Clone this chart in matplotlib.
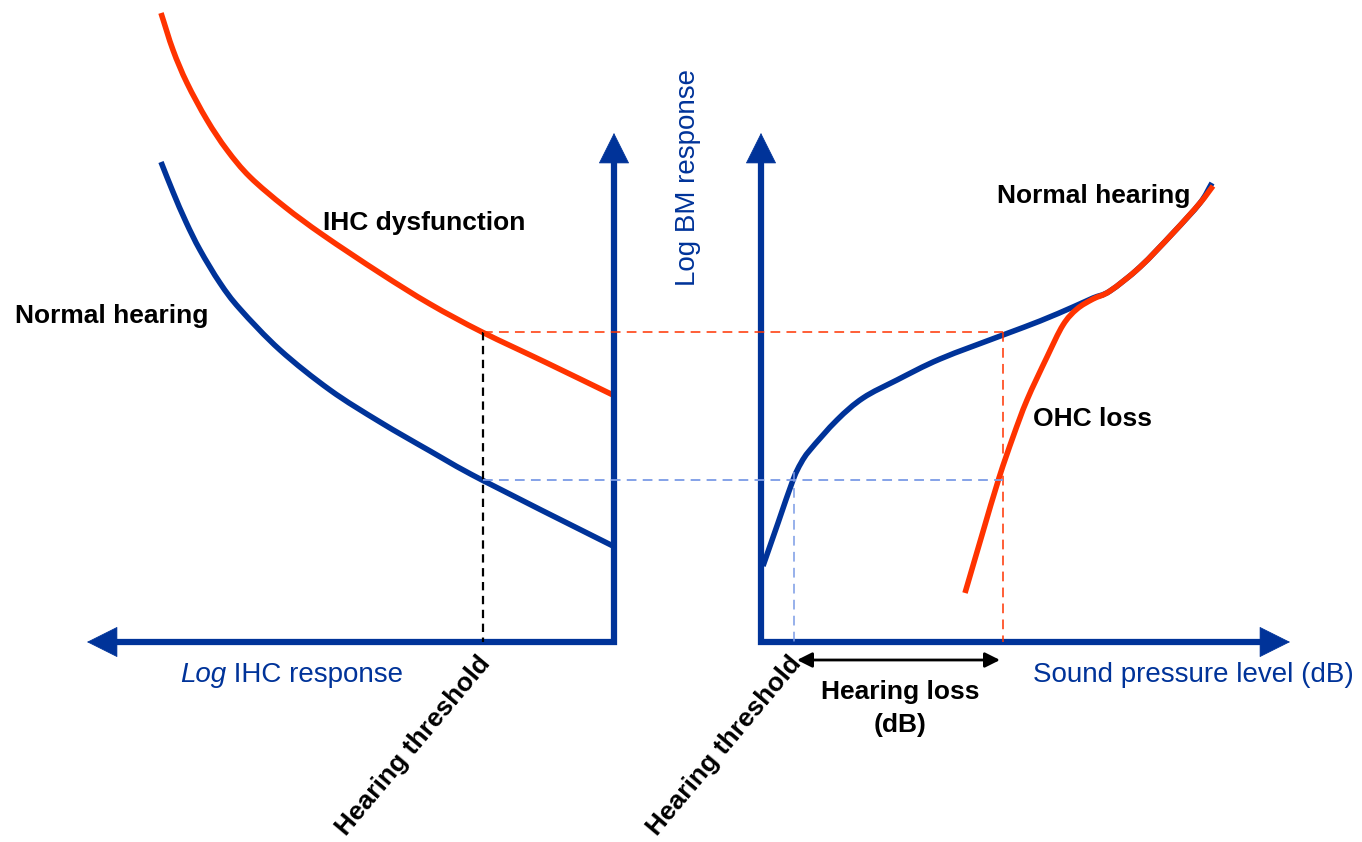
import numpy as np
import matplotlib.pyplot as plt
from matplotlib.path import Path
from matplotlib.patches import PathPatch

plt.rcParams['font.family'] = ['Liberation Sans', 'DejaVu Sans']
plt.rcParams['lines.scale_dashes'] = False

BLUE = '#003399'
RED = '#ff3300'
PALE = '#7b9be6'

# IHC panel (left): response falls off as level goes up
ihc_normal_x = [161, 173, 186, 200, 220, 240, 280, 330, 380, 430, 482, 613]
ihc_normal_y = [162, 192, 222, 250, 283, 309, 350, 390, 422, 451, 480, 546]
ihc_dysf_x = [161, 173, 187, 207, 227, 250, 285, 323, 380, 430, 482, 547, 613]
ihc_dysf_y = [13, 50, 83, 120, 150, 177, 207, 235, 273, 304, 332, 363, 395]

# BM panel (right): input/output functions
bm_normal_x = [763, 778, 793, 801, 810, 837, 863, 897, 940, 1003, 1040, 1073, 1093, 1110, 1140, 1173, 1200, 1212]
bm_normal_y = [566, 523, 480, 463, 450, 420, 398, 380, 359, 335, 321, 307, 298, 291, 267, 233, 203, 183]
bm_ohc_x = [965, 982, 999, 1013, 1027, 1047, 1063, 1077, 1093, 1110, 1140, 1173, 1200, 1213]
bm_ohc_y = [593, 535, 478, 437, 400, 357, 325, 309, 299, 291, 267, 233, 203, 186]

# thresholds and the response levels they map to
ihc_threshold = 483
spl_threshold_normal = 794
spl_threshold_ohc = 1003
level_dysf = 332
level_normal = 480

# axis frame
axis_y = 642
left_axis_x = 614
right_axis_x = 761
axis_top = 133
left_end = 87
right_end = 1290

fig = plt.figure(figsize=(13.62, 8.42), dpi=100)
ax = fig.add_axes([0, 0, 1, 1])
ax.set_xlim(0, 1362)
ax.set_ylim(842, 0)
ax.axis('off')


def arrow_head(tail, tip):
    ax.annotate('', xy=tip, xytext=tail,
                arrowprops=dict(arrowstyle='-|>,head_length=1.0,head_width=0.5',
                                mutation_scale=21, color=BLUE, lw=0.5,
                                shrinkA=0, shrinkB=0))


def smooth_curve(xs, ys, color):
    # Catmull-Rom through the points, drawn as cubic Bezier segments
    p = np.column_stack([xs, ys]).astype(float)
    pts = np.vstack([2 * p[0] - p[1], p, 2 * p[-1] - p[-2]])
    verts = [p[0]]
    codes = [Path.MOVETO]
    for i in range(1, len(pts) - 2):
        p0, p1, p2, p3 = pts[i - 1], pts[i], pts[i + 1], pts[i + 2]
        verts += [p1 + (p2 - p0) / 6, p2 - (p3 - p1) / 6, p2]
        codes += [Path.CURVE4] * 3
    ax.add_patch(PathPatch(Path(verts, codes), fill=False, edgecolor=color,
                           lw=4, capstyle='butt', joinstyle='round'))


# axes as L shapes with arrow heads
ax.plot([left_end + 28, left_axis_x, left_axis_x], [axis_y, axis_y, axis_top + 28],
        color=BLUE, lw=4.5, solid_joinstyle='miter', solid_capstyle='butt')
ax.plot([right_axis_x, right_axis_x, right_end - 28], [axis_top + 28, axis_y, axis_y],
        color=BLUE, lw=4.5, solid_joinstyle='miter', solid_capstyle='butt')
arrow_head((left_end + 32, axis_y), (left_end, axis_y))
arrow_head((left_axis_x, axis_top + 32), (left_axis_x, axis_top))
arrow_head((right_axis_x, axis_top + 32), (right_axis_x, axis_top))
arrow_head((right_end - 32, axis_y), (right_end, axis_y))

# guide lines
ax.plot([ihc_threshold, ihc_threshold], [level_dysf, axis_y], color='black',
        lw=1.6, dashes=(6, 4))
ax.plot([ihc_threshold, spl_threshold_ohc], [level_dysf, level_dysf], color=RED,
        lw=1.1, dashes=(7, 4.5))
ax.plot([spl_threshold_ohc, spl_threshold_ohc], [level_dysf, axis_y], color=RED,
        lw=1.1, dashes=(7, 4.5))
ax.plot([ihc_threshold, spl_threshold_ohc], [level_normal, level_normal], color=PALE,
        lw=1.3, dashes=(7, 4.5))
ax.plot([spl_threshold_normal, spl_threshold_normal], [level_normal - 8, axis_y],
        color=PALE, lw=1.1, dashes=(7, 4.5))

# curves
smooth_curve(ihc_normal_x, ihc_normal_y, BLUE)
smooth_curve(ihc_dysf_x, ihc_dysf_y, RED)
smooth_curve(bm_normal_x, bm_normal_y, BLUE)
smooth_curve(bm_ohc_x, bm_ohc_y, RED)

# hearing loss span
ax.annotate('', xy=(spl_threshold_ohc - 3, 660), xytext=(spl_threshold_normal + 3, 660),
            arrowprops=dict(arrowstyle='<|-|>,head_length=0.9,head_width=0.45',
                            mutation_scale=10, color='black', lw=2,
                            shrinkA=0, shrinkB=0))

bold = dict(fontsize=19, fontweight='bold', color='black')
ax.text(15, 323, 'Normal hearing', **bold)
ax.text(323, 230, 'IHC dysfunction', **bold)
ax.text(997, 203, 'Normal hearing', **bold)
ax.text(1033, 426, 'OHC loss', **bold)
ax.text(900, 699, 'Hearing loss', ha='center', **bold)
ax.text(900, 732, '(dB)', ha='center', **bold)
for x in (ihc_threshold, spl_threshold_normal):
    ax.text(x + 3, 659, 'Hearing threshold', rotation=50, rotation_mode='anchor',
            ha='right', va='center', **bold)

t_log = ax.text(180, 682, 'Log', fontsize=20, style='italic', color=BLUE)
ax.annotate(' IHC response', xy=(1, 0), xycoords=t_log, va='bottom',
            fontsize=20, color=BLUE)
ax.text(1033, 682, 'Sound pressure level (dB)', fontsize=20, color=BLUE)
ax.text(688, 177, 'Log BM response', rotation=90, ha='center', va='center',
        fontsize=20, color=BLUE)

fig.savefig('out.png', dpi=100)
